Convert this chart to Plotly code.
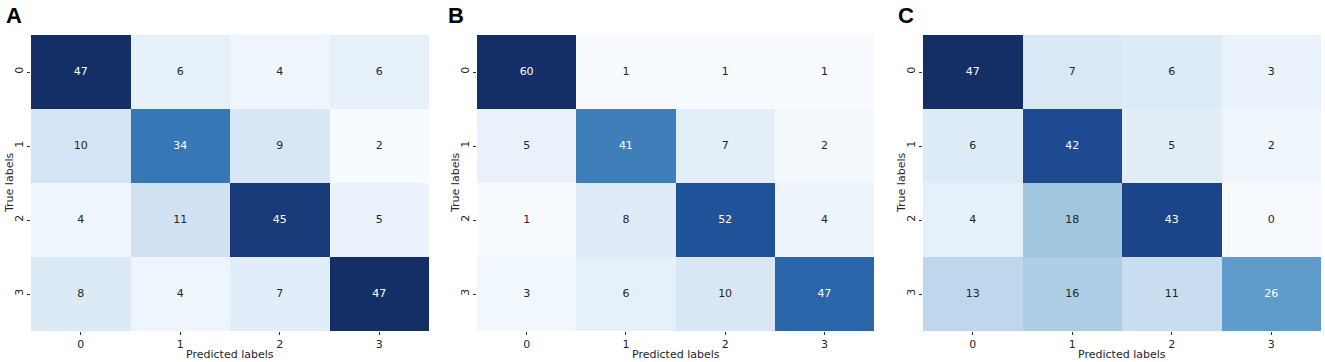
import plotly.graph_objects as go

labels = ["0", "1", "2", "3"]
panel_names = ["A", "B", "C"]
cm_a = [[47, 6, 4, 6], [10, 34, 9, 2], [4, 11, 45, 5], [8, 4, 7, 47]]
cm_b = [[60, 1, 1, 1], [5, 41, 7, 2], [1, 8, 52, 4], [3, 6, 10, 47]]
cm_c = [[47, 7, 6, 3], [6, 42, 5, 2], [4, 18, 43, 0], [13, 16, 11, 26]]
matrices = [cm_a, cm_b, cm_c]

blues = [
    [0.0, "#f7fbff"], [0.125, "#deebf7"], [0.25, "#c6dbef"], [0.375, "#a2c8df"],
    [0.5, "#70a8d2"], [0.625, "#4a8cc2"], [0.75, "#2d6db0"], [0.875, "#1f4f98"],
    [1.0, "#142f66"],
]

W, H = 1325, 362
x_px = [(31, 429), (477, 874), (923, 1321)]
y_top, y_bot = 35, 331
ydom = [1 - y_bot / H, 1 - y_top / H]
font_fam = "DejaVu Sans, Arial, sans-serif"
txt_col = "#262626"

fig = go.Figure()
for i, cm in enumerate(matrices):
    ax = "" if i == 0 else str(i + 1)
    xs = [0, 1, 2, 3]
    zmin = min(min(r) for r in cm)
    zmax = max(max(r) for r in cm)
    fig.add_trace(go.Heatmap(
        z=cm, x=xs, y=xs, colorscale=blues, zmin=zmin, zmax=zmax,
        showscale=False, xaxis="x" + ax, yaxis="y" + ax, hoverinfo="skip",
    ))
    tx, ty, tt, tc = [], [], [], []
    for r in range(4):
        for c in range(4):
            v = cm[r][c]
            norm = (v - zmin) / (zmax - zmin)
            tx.append(c); ty.append(r); tt.append(str(v))
            tc.append("white" if norm > 0.5 else txt_col)
    fig.add_trace(go.Scatter(
        x=tx, y=ty, text=tt, mode="text", textfont=dict(color=tc, size=11, family=font_fam),
        xaxis="x" + ax, yaxis="y" + ax, showlegend=False, hoverinfo="skip",
    ))
    xd = [x_px[i][0] / W, x_px[i][1] / W]
    fig.layout["xaxis" + ax] = dict(
        domain=xd, range=[-0.5, 3.5], tickvals=xs, ticktext=labels, ticks="outside",
        ticklen=3, tickcolor="#333", showgrid=False, zeroline=False, showline=False,
        anchor="y" + ax, automargin=False,
        tickfont=dict(size=11, color=txt_col, family=font_fam),
    )
    fig.layout["yaxis" + ax] = dict(
        domain=ydom, range=[3.5, -0.5], tickvals=xs, ticktext=labels, ticks="outside",
        ticklen=3, tickcolor="#333", tickangle=-90, showgrid=False, zeroline=False, showline=False,
        anchor="x" + ax, automargin=False,
        tickfont=dict(size=11, color=txt_col, family=font_fam),
    )
    cx = (x_px[i][0] + x_px[i][1]) / 2 / W
    fig.add_annotation(
        text="Predicted labels", x=cx, y=1 - 354 / H, xref="paper", yref="paper",
        xanchor="center", yanchor="middle", showarrow=False,
        font=dict(size=11, color=txt_col, family=font_fam),
    )
    fig.add_annotation(
        text="True labels", x=(x_px[i][0] - 22) / W, y=(ydom[0] + ydom[1]) / 2,
        xref="paper", yref="paper", xanchor="center", yanchor="middle", showarrow=False,
        textangle=-90, font=dict(size=11, color=txt_col, family=font_fam),
    )

letter_x = [4, 446, 896]
for i, name in enumerate(panel_names):
    fig.add_annotation(
        text="<b>" + name + "</b>", x=letter_x[i] / W, y=1 - 1 / H, xref="paper", yref="paper",
        xanchor="left", yanchor="top", showarrow=False,
        font=dict(size=22, color="black", family="Liberation Sans, Arial, sans-serif"),
    )

fig.update_layout(
    width=W, height=H, margin=dict(l=0, r=0, t=0, b=0),
    plot_bgcolor="white", paper_bgcolor="white",
)
fig.write_html(
    "out.html",
    config={"displayModeBar": False},
    post_script="document.body.style.margin='0';document.body.style.overflow='hidden';",
)
